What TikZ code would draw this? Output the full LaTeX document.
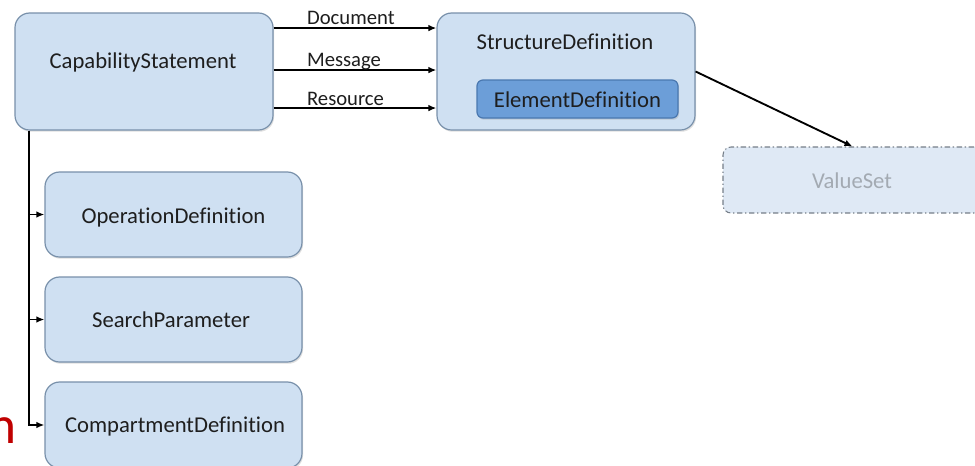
\documentclass[tikz,border=0pt]{standalone}
\usepackage{fontspec}
\setmainfont{Carlito}[Ligatures={NoCommon}]
\usetikzlibrary{arrows.meta,fit,shadows}

\definecolor{boxfill}{HTML}{CFE0F2}
\definecolor{boxline}{HTML}{7890AA}
\definecolor{innerfill}{HTML}{6C9ED8}
\definecolor{innerline}{HTML}{4A78B0}
\definecolor{vsfill}{HTML}{DFE9F5}
\definecolor{vsline}{HTML}{767F89}
\definecolor{vstext}{HTML}{A3AAB2}
\definecolor{txt}{HTML}{1E1E1E}
\definecolor{accent}{HTML}{C00000}

\begin{document}
\begin{tikzpicture}[x=0.75pt,y=-0.75pt,
  softshadow/.style={drop shadow={opacity=0.25, shadow xshift=0.8pt, shadow yshift=-1.3pt}},
  box/.style={draw=boxline, line width=0.9pt, fill=boxfill, rounded corners=11pt,
    inner sep=0pt, softshadow},
  innerbox/.style={draw=innerline, line width=0.9pt, fill=innerfill, rounded corners=4.5pt,
    inner sep=0pt, softshadow},
  vsbox/.style={draw=vsline, line width=0.8pt, fill=vsfill, rounded corners=6pt, inner sep=0pt,
    dash pattern=on 4pt off 2pt on 1pt off 2pt},
  boxtext/.style={anchor=base, inner sep=0pt, text=txt, font=\fontsize{17}{20}\selectfont},
  lbl/.style={anchor=base west, inner sep=0pt, text=txt, yshift=3pt,
    font=\fontsize{15.5}{18}\selectfont},
  conn/.style={draw=black, line width=1.4pt},
  arrow/.style={conn, -{Latex[length=6pt,width=5pt]}}
]
\useasboundingbox (0,0) rectangle (975,465);
\clip (0,0) rectangle (975,465);
\fill[white] (0,0) rectangle (975,465);

% main boxes
\node[box, fit={(15,13) (273,130)}] (cap) {};
\node[boxtext] (capt) at (143,68) {CapabilityStatement};

\node[box, fit={(437,13) (695,130)}] (sd) {};
\node[boxtext] (sdt) at (565,49) {StructureDefinition};
\node[innerbox, fit={(477,80) (678,118)}] (ed) {};
\node[boxtext] (edt) at (577.5,107) {ElementDefinition};

\node[vsbox, fit={(723,147) (982,213)}] (vs) {};
\node[boxtext, text=vstext] (vst) at (852,188) {ValueSet};

\node[box, fit={(45,172) (302,257)}] (op) {};
\node[boxtext] (opt) at (173.5,223) {OperationDefinition};

\node[box, fit={(45,277) (302,362)}] (sp) {};
\node[boxtext] (spt) at (171,327) {SearchParameter};

\node[box, fit={(45,382) (302,468)}] (comp) {};
\node[boxtext] (compt) at (175,432) {CompartmentDefinition};

% red letter at the left edge
\node[anchor=base east, inner sep=0pt, text=accent, font=\fontsize{40}{44}\selectfont] (mark) at (16.5,443) {n};

% connectors to StructureDefinition
\draw[arrow] ([yshift=32.6pt]cap.east) -- node[lbl, pos=0.2] {Document} ([yshift=32.6pt]sd.west);
\draw[arrow] ([yshift=1.1pt]cap.east) -- node[lbl, pos=0.2] {Message} ([yshift=1.1pt]sd.west);
\draw[arrow] ([yshift=-27.4pt]cap.east) -- node[lbl, pos=0.2, yshift=-1pt] {Resource} ([yshift=-27.4pt]sd.west);

\draw[arrow] (sd.east) -- (vs.north);

% trunk with branches
\coordinate (trunk) at ([xshift=11.25pt]cap.south west);
\draw[arrow] (trunk) |- (comp.west);
\draw[arrow] (trunk |- op.west) -- (op.west);
\draw[arrow] (trunk |- sp.west) -- (sp.west);
\end{tikzpicture}
\end{document}
